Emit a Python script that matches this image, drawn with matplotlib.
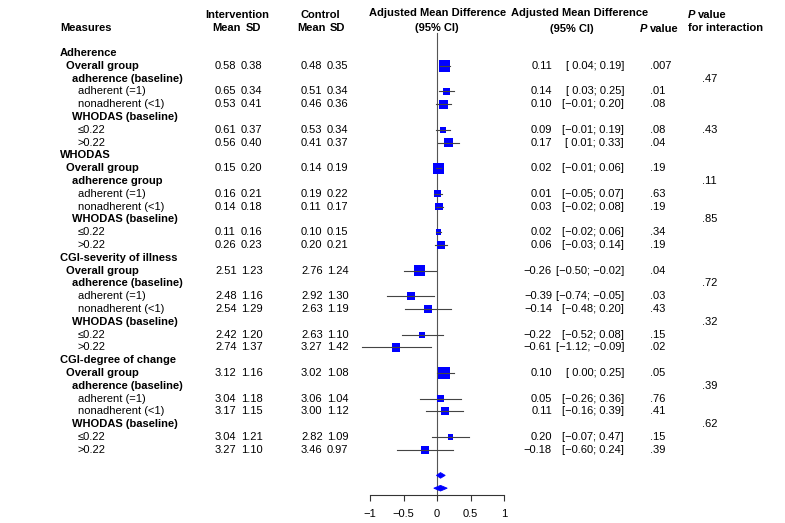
import matplotlib
matplotlib.use("Agg")
import matplotlib.pyplot as plt
from matplotlib.patches import Polygon

plt.rcParams['font.family'] = ['Liberation Sans', 'DejaVu Sans']
plt.rcParams['font.size'] = 8

# row labels (text, indent level); level < 3 is bold
labels = [
    ("Adherence", 0), ("Overall group", 1), ("adherence (baseline)", 2),
    ("adherent (=1)", 3), ("nonadherent (<1)", 3), ("WHODAS (baseline)", 2),
    ("≤0.22", 3), (">0.22", 3),
    ("WHODAS", 0), ("Overall group", 1), ("adherence group", 2),
    ("adherent (=1)", 3), ("nonadherent (<1)", 3), ("WHODAS (baseline)", 2),
    ("≤0.22", 3), (">0.22", 3),
    ("CGI-severity of illness", 0), ("Overall group", 1), ("adherence (baseline)", 2),
    ("adherent (=1)", 3), ("nonadherent (<1)", 3), ("WHODAS (baseline)", 2),
    ("≤0.22", 3), (">0.22", 3),
    ("CGI-degree of change", 0), ("Overall group", 1), ("adherence (baseline)", 2),
    ("adherent (=1)", 3), ("nonadherent (<1)", 3), ("WHODAS (baseline)", 2),
    ("≤0.22", 3), (">0.22", 3),
]

# rows that carry an estimate
data_rows = [1, 3, 4, 6, 7, 9, 11, 12, 14, 15, 17, 19, 20, 22, 23, 25, 27, 28, 30, 31]
int_mean = [0.58, 0.65, 0.53, 0.61, 0.56, 0.15, 0.16, 0.14, 0.11, 0.26,
            2.51, 2.48, 2.54, 2.42, 2.74, 3.12, 3.04, 3.17, 3.04, 3.27]
int_sd = [0.38, 0.34, 0.41, 0.37, 0.40, 0.20, 0.21, 0.18, 0.16, 0.23,
          1.23, 1.16, 1.29, 1.20, 1.37, 1.16, 1.18, 1.15, 1.21, 1.10]
ctl_mean = [0.48, 0.51, 0.46, 0.53, 0.41, 0.14, 0.19, 0.11, 0.10, 0.20,
            2.76, 2.92, 2.63, 2.63, 3.27, 3.02, 3.06, 3.00, 2.82, 3.46]
ctl_sd = [0.35, 0.34, 0.36, 0.34, 0.37, 0.19, 0.22, 0.17, 0.15, 0.21,
          1.24, 1.30, 1.19, 1.10, 1.42, 1.08, 1.04, 1.12, 1.09, 0.97]
est = [0.11, 0.14, 0.10, 0.09, 0.17, 0.02, 0.01, 0.03, 0.02, 0.06,
       -0.26, -0.39, -0.14, -0.22, -0.61, 0.10, 0.05, 0.11, 0.20, -0.18]
ci_lo = [0.04, 0.03, -0.01, -0.01, 0.01, -0.01, -0.05, -0.02, -0.02, -0.03,
         -0.50, -0.74, -0.48, -0.52, -1.12, 0.00, -0.26, -0.16, -0.07, -0.60]
ci_hi = [0.19, 0.25, 0.20, 0.19, 0.33, 0.06, 0.07, 0.08, 0.06, 0.14,
         -0.02, -0.05, 0.20, 0.08, -0.09, 0.25, 0.36, 0.39, 0.47, 0.24]
pvals = [".007", ".01", ".08", ".08", ".04", ".19", ".63", ".19", ".34", ".19",
         ".04", ".03", ".43", ".15", ".02", ".05", ".76", ".41", ".15", ".39"]
weights = [11, 6, 8.7, 5.3, 8, 10.3, 6.7, 7.3, 5.3, 8,
           11, 7.3, 7.7, 5.7, 8, 11, 7.3, 7.7, 5.3, 8]

# interaction p values (row -> text)
p_int_rows = [2, 6, 10, 13, 18, 21, 26, 29]
p_int = [".47", ".43", ".11", ".85", ".72", ".32", ".39", ".62"]

# pooled diamonds at the bottom
dia_rows = [33, 34]
dia_est = [0.05, 0.05]
dia_lo = [-0.01, -0.05]
dia_hi = [0.12, 0.15]

xticks = [-1, -0.5, 0, 0.5, 1]
xticklabels = ["−1", "−0.5", "0", "0.5", "1"]

W, H = 785, 523
ROW0, DY = 53.0, 12.8          # pixel y of row 0, row height
def row_of(py):
    return (py - ROW0) / DY

fig = plt.figure(figsize=(W / 100, H / 100), dpi=100)
bg = fig.add_axes([0, 0, 1, 1])
bg.set_xlim(0, W)
bg.set_ylim(row_of(H), row_of(0))
bg.axis('off')

# forest axes: x from -1 (px 370) to 1 (px 504.3), bottom spine at px 495
x0, x1, yb = 370.0, 504.3, 495.0
ax = fig.add_axes([x0 / W, (H - yb) / H, (x1 - x0) / W, yb / H])
ax.set_xlim(-1, 1)
ax.set_ylim(row_of(yb), row_of(0))
ax.patch.set_visible(False)
for s in ['top', 'right', 'left']:
    ax.spines[s].set_visible(False)
ax.spines['bottom'].set_color('#333333')
ax.spines['bottom'].set_linewidth(0.8)
ax.set_yticks([])
ax.set_xticks(xticks)
ax.set_xticklabels(xticklabels)
ax.tick_params(axis='x', direction='out', length=4, width=0.8, color='#333333',
               pad=6, labelsize=8)

# zero line
ax.plot([0, 0], [row_of(33), row_of(yb)], color='#555555', lw=0.8, clip_on=False)

# CIs and boxes
wmax = max(weights)
for i, r in enumerate(data_rows):
    side = 11.5 * weights[i] / wmax * 0.72  # points
    ax.scatter([est[i]], [r], marker='s', s=side ** 2, color='#0000FF',
               edgecolors='none', zorder=3, clip_on=False)
    ax.plot([ci_lo[i], ci_hi[i]], [r, r], color='#444444', lw=0.8,
            zorder=4, clip_on=False)

# diamonds
for r, e, lo, hi in zip(dia_rows, dia_est, dia_lo, dia_hi):
    h = 0.22
    ax.add_patch(Polygon([(lo, r), (e, r - h), (hi, r), (e, r + h)],
                         closed=True, facecolor='#0000FF', edgecolor='#0000FF',
                         lw=0.6, clip_on=False, zorder=3))

# headers
hy1, hy2 = row_of(15), row_of(28)
bold = dict(fontweight='bold', va='center')
bg.text(60, hy2, "Measures", ha='left', **bold)
bg.text(237, hy1, "Intervention", ha='center', **bold)
bg.text(212, hy2, "Mean", ha='left', **bold)
bg.text(246, hy2, "SD", ha='left', **bold)
bg.text(320, hy1, "Control", ha='center', **bold)
bg.text(297, hy2, "Mean", ha='left', **bold)
bg.text(330, hy2, "SD", ha='left', **bold)
bg.text(438, row_of(13), "Adjusted Mean Difference", ha='center', **bold)
bg.text(437, row_of(28), "(95% CI)", ha='center', **bold)
bg.text(580, row_of(13), "Adjusted Mean Difference", ha='center', **bold)
bg.text(572, row_of(29), "(95% CI)", ha='center', **bold)
bg.text(640, row_of(29), "P", ha='left', fontstyle='italic', **bold)
bg.text(650, row_of(29), "value", ha='left', **bold)
bg.text(688, row_of(15), "P", ha='left', fontstyle='italic', **bold)
bg.text(698, row_of(15), "value", ha='left', **bold)
bg.text(688, row_of(28), "for interaction", ha='left', **bold)

# row labels
indent = [60, 66, 72, 78]
for r, (txt, lvl) in enumerate(labels):
    bg.text(indent[lvl], r, txt, ha='left', va='center',
            fontweight='bold' if lvl < 3 else 'normal')

def f(v):
    return f"{v:.2f}".replace("-", "−")

def fci(lo, hi):
    a = f(lo) if lo < 0 else " " + f(lo)
    return f"[{a}; {f(hi)}]"

for i, r in enumerate(data_rows):
    bg.text(215, r, f"{int_mean[i]:.2f}", ha='left', va='center')
    bg.text(241, r, f"{int_sd[i]:.2f}", ha='left', va='center')
    bg.text(301, r, f"{ctl_mean[i]:.2f}", ha='left', va='center')
    bg.text(327, r, f"{ctl_sd[i]:.2f}", ha='left', va='center')
    bg.text(552, r, f(est[i]), ha='right', va='center')
    bg.text(624, r, fci(ci_lo[i], ci_hi[i]), ha='right', va='center')
    bg.text(650, r, pvals[i], ha='left', va='center')

for r, t in zip(p_int_rows, p_int):
    bg.text(702, r, t, ha='left', va='center')

fig.savefig("out.png", dpi=100)
